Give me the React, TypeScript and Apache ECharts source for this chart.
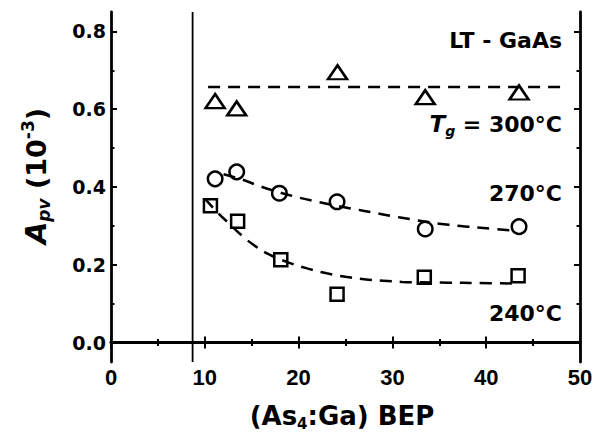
import { useEffect, useRef } from "react";
import * as echarts from "echarts";

const xMin = 0;
const xMax = 50;
const yMin = -0.05;
const yMax = 0.85;
const yMajor = [0, 0.2, 0.4, 0.6, 0.8];
const yMinor = [0.1, 0.3, 0.5, 0.7];

// measured points
const x300 = [11.1, 13.4, 24.15, 33.5, 43.5];
const y300 = [0.621, 0.602, 0.695, 0.631, 0.643];
const x270 = [11.1, 13.4, 17.95, 24.1, 33.5, 43.5];
const y270 = [0.421, 0.439, 0.384, 0.362, 0.292, 0.298];
const x240 = [10.6, 13.5, 18.1, 24.1, 33.4, 43.4];
const y240 = [0.352, 0.312, 0.213, 0.124, 0.168, 0.172];

// guide-to-the-eye curves
const fit300X = [10.35, 48.1];
const fit300Y = [0.657, 0.657];
const fit270X = [12, 14, 16, 18, 20, 22, 24, 26, 28, 30, 32, 34, 36, 38, 40, 42.5];
const fit270Y = [0.433, 0.419, 0.401, 0.386, 0.373, 0.362, 0.352, 0.343, 0.334, 0.325, 0.317, 0.309, 0.303, 0.298, 0.294, 0.289];
const fit240X = [10.0, 11.3, 12.5, 14, 15.5, 17, 19, 21, 23, 25, 27, 29, 31, 33, 36, 39, 43.3];
const fit240Y = [0.37, 0.336, 0.308, 0.274, 0.246, 0.225, 0.205, 0.19, 0.178, 0.169, 0.163, 0.159, 0.156, 0.155, 0.154, 0.153, 0.152];

// vertical reference line
const vlineX = [8.7, 8.7];
const vlineY = [-0.05, 0.85];

const zip = (xs: number[], ys: number[]) => xs.map((x, i) => [x, ys[i]]);

const FONT = "DejaVu Sans";

export default function App() {
  const ref = useRef<HTMLDivElement>(null);
  useEffect(() => {
    if (!ref.current) return;
    const chart = echarts.init(ref.current, undefined, { renderer: "svg" });
    const axisLine = { show: true, lineStyle: { color: "#000", width: 2.8 } };
    const majorTick = (vals?: number[]) => ({
      show: true,
      inside: true,
      length: 6,
      lineStyle: { color: "#000", width: 2 },
      ...(vals ? { customValues: vals } : {}),
    });
    const minorTickY = {
      show: true,
      inside: true,
      length: 3.5,
      lineStyle: { color: "#000", width: 2 },
      customValues: yMinor,
    };
    const yBase = { type: "value", min: yMin, max: yMax, splitLine: { show: false } };
    const xBase = {
      type: "value",
      min: xMin,
      max: xMax,
      interval: 10,
      splitLine: { show: false },
      minorTick: { show: true, splitNumber: 2, length: 3.5, lineStyle: { color: "#000", width: 2 } },
      minorSplitLine: { show: false },
    };
    const lineDash = { color: "#000", width: 2.5, type: [12, 8] as number[] };
    const mkStyle = { color: "transparent", borderColor: "#000", borderWidth: 2.5, opacity: 1 };
    chart.setOption({
      animation: false,
      grid: { left: 111, right: 19, top: 12, bottom: 72 },
      xAxis: [
        {
          ...xBase,
          position: "bottom",
          axisLine,
          axisTick: majorTick(),
          axisLabel: {
            show: true,
            margin: 4,
            color: "#000",
            fontFamily: "Liberation Sans",
            fontWeight: "bold",
            fontSize: 22,
          },
        },
        {
          ...xBase,
          position: "top",
          axisLine,
          axisTick: majorTick(),
          axisLabel: { show: false },
        },
      ],
      yAxis: [
        {
          ...yBase,
          position: "left",
          axisLine,
          axisTick: majorTick(yMajor),
          axisLabel: {
            show: true,
            customValues: yMajor,
            margin: 5,
            color: "#000",
            fontFamily: FONT,
            fontWeight: "bold",
            fontSize: 19,
            formatter: (v: number) => v.toFixed(1),
          },
        },
        { ...yBase, position: "left", axisLine: { show: false }, axisTick: minorTickY, axisLabel: { show: false } },
        {
          ...yBase,
          position: "right",
          axisLine,
          axisTick: majorTick(yMajor),
          axisLabel: { show: false },
        },
        { ...yBase, position: "right", axisLine: { show: false }, axisTick: minorTickY, axisLabel: { show: false } },
      ],
      series: [
        {
          type: "line",
          data: zip(vlineX, vlineY),
          symbol: "none",
          lineStyle: { color: "#000", width: 1.8 },
          silent: true,
        },
        { type: "line", data: zip(fit300X, fit300Y), symbol: "none", lineStyle: lineDash },
        { type: "line", data: zip(fit270X, fit270Y), symbol: "none", smooth: 0.4, lineStyle: lineDash },
        { type: "line", data: zip(fit240X, fit240Y), symbol: "none", smooth: 0.4, lineStyle: lineDash },
        {
          type: "scatter",
          data: zip(x300, y300),
          symbol: "triangle",
          symbolSize: [19, 14],
          itemStyle: mkStyle,
        },
        {
          type: "scatter",
          data: zip(x270, y270),
          symbol: "circle",
          symbolSize: 14.5,
          itemStyle: mkStyle,
        },
        {
          type: "scatter",
          data: zip(x240, y240),
          symbol: "rect",
          symbolSize: 13,
          itemStyle: mkStyle,
        },
      ],
      graphic: [
        {
          type: "text",
          x: 562,
          y: 40,
          style: {
            text: "LT - GaAs",
            align: "right",
            verticalAlign: "middle",
            fontFamily: FONT,
            fontWeight: "bold",
            fontSize: 22,
            fill: "#000",
          },
        },
        {
          type: "text",
          x: 562,
          y: 124,
          style: {
            text: "{t|T}{g|g}{n| = 300°C}",
            align: "right",
            verticalAlign: "middle",
            fill: "#000",
            rich: {
              t: { fontFamily: FONT, fontWeight: "bold", fontStyle: "italic", fontSize: 23 },
              g: { fontFamily: FONT, fontWeight: "bold", fontStyle: "italic", fontSize: 14, padding: [14, 0, 0, 0] },
              n: { fontFamily: FONT, fontWeight: "bold", fontSize: 22 },
            },
          },
        },
        {
          type: "text",
          x: 562,
          y: 193,
          style: {
            text: "270°C",
            align: "right",
            verticalAlign: "middle",
            fontFamily: FONT,
            fontWeight: "bold",
            fontSize: 22,
            fill: "#000",
          },
        },
        {
          type: "text",
          x: 562,
          y: 313,
          style: {
            text: "240°C",
            align: "right",
            verticalAlign: "middle",
            fontFamily: FONT,
            fontWeight: "bold",
            fontSize: 22,
            fill: "#000",
          },
        },
        {
          type: "text",
          x: 342,
          y: 416,
          style: {
            text: "{a|(As}{s|4}{a|:Ga) BEP}",
            align: "center",
            verticalAlign: "middle",
            fill: "#000",
            rich: {
              a: { fontFamily: FONT, fontWeight: "bold", fontSize: 26 },
              s: { fontFamily: FONT, fontWeight: "bold", fontSize: 15, padding: [16, 0, 0, 0] },
            },
          },
        },
        {
          type: "text",
          x: 36,
          y: 176,
          rotation: Math.PI / 2,
          style: {
            text: "{a|A}{s|pv}{b| (10}{u|-3}{b|)}",
            align: "center",
            verticalAlign: "middle",
            fill: "#000",
            rich: {
              a: { fontFamily: FONT, fontWeight: "bold", fontStyle: "italic", fontSize: 29 },
              s: { fontFamily: FONT, fontWeight: "bold", fontStyle: "italic", fontSize: 17, padding: [16, 0, 0, 0] },
              b: { fontFamily: FONT, fontWeight: "bold", fontSize: 27 },
              u: { fontFamily: FONT, fontWeight: "bold", fontSize: 17, padding: [0, 0, 16, 0] },
            },
          },
        },
      ],
    });
    return () => chart.dispose();
  }, []);
  return (
    <div
      ref={ref}
      style={{ position: "fixed", left: 0, top: 0, width: 599, height: 434, background: "#fff" }}
    />
  );
}
